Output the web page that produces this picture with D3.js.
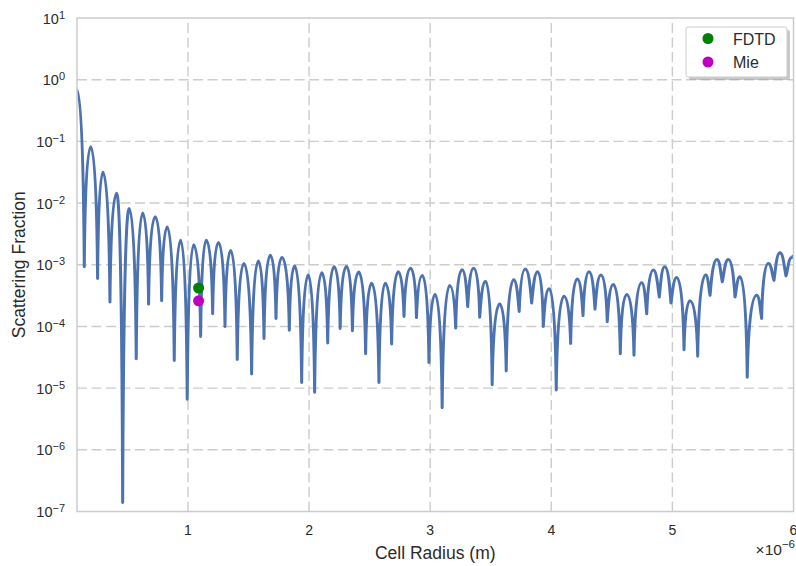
<!DOCTYPE html>
<html lang="en">
<head>
  <meta charset="UTF-8">
  <title>Scattering Fraction vs Cell Radius</title>
  <script src="https://d3js.org/d3.v7.min.js"></script>
  <style>
    body {
      margin: 0;
      background: #fff;
      font-family: "Liberation Sans", Arial, sans-serif;
    }
    svg { display: block; }
  </style>
</head>
<body>
<svg id="chart" width="796" height="566"></svg>

<script>
  // Cell radius in micrometres (the axis carries the x10^-6 offset), read at each lobe top and dip
  const radius = [
    0.084, 0.144, 0.197, 0.254, 0.298, 0.356, 0.411, 0.461, 0.515, 0.573,
    0.626, 0.675, 0.730, 0.783, 0.829, 0.887, 0.940, 0.994, 1.047, 1.105,
    1.151, 1.204, 1.252, 1.306, 1.353, 1.407, 1.462, 1.526, 1.581, 1.628,
    1.680, 1.727, 1.776, 1.837, 1.881, 1.939, 1.993, 2.046, 2.105, 2.154,
    2.207, 2.257, 2.309, 2.358, 2.410, 2.467, 2.517, 2.577, 2.629, 2.682,
    2.737, 2.784, 2.839, 2.887, 2.935, 2.990, 3.041, 3.099, 3.161, 3.211,
    3.263, 3.310, 3.359, 3.409, 3.458, 3.512, 3.574, 3.628, 3.689, 3.735,
    3.785, 3.838, 3.888, 3.934, 3.983, 4.041, 4.105, 4.160, 4.215, 4.262,
    4.311, 4.361, 4.410, 4.462, 4.512, 4.570, 4.623, 4.683, 4.746, 4.788,
    4.842, 4.892, 4.936, 4.988, 5.035, 5.096, 5.145, 5.209, 5.275, 5.311,
    5.368, 5.412, 5.462, 5.517, 5.558, 5.618, 5.696, 5.737, 5.792, 5.839,
    5.888, 5.938, 5.985, 6.000
  ];

  const fraction = [
    0.68, 9.3e-4, 0.082, 6.0e-4, 0.0315, 2.5e-4, 0.0144, 1.4e-7, 8.2e-3, 3.0e-5,
    6.9e-3, 2.3e-4, 6.0e-3, 2.6e-4, 4.1e-3, 2.8e-5, 2.5e-3, 6.6e-6, 2.1e-3, 6.9e-5,
    2.5e-3, 1.6e-4, 2.3e-3, 1.0e-4, 1.7e-3, 2.9e-5, 1.05e-3, 1.7e-5, 1.15e-3, 6.4e-5,
    1.43e-3, 1.35e-4, 1.31e-3, 8.7e-5, 9.5e-4, 1.23e-5, 6.8e-4, 8.6e-6, 7.4e-4, 5.4e-5,
    9.3e-4, 9.3e-5, 9.4e-4, 8.5e-5, 7.6e-4, 3.6e-5, 5.0e-4, 1.23e-5, 5.0e-4, 5.2e-5,
    7.7e-4, 1.45e-4, 8.8e-4, 1.39e-4, 6.7e-4, 2.6e-5, 3.3e-4, 4.8e-6, 4.6e-4, 9.4e-5,
    8.3e-4, 2.1e-4, 8.8e-4, 1.41e-4, 5.4e-4, 1.13e-5, 2.3e-4, 1.9e-5, 5.7e-4, 1.75e-4,
    8.5e-4, 2.4e-4, 7.7e-4, 1.0e-4, 4.1e-4, 9.3e-6, 3.1e-4, 5.3e-5, 5.9e-4, 1.5e-4,
    7.7e-4, 1.9e-4, 6.8e-4, 1.19e-4, 4.8e-4, 3.6e-5, 3.3e-4, 3.4e-5, 5.1e-4, 1.6e-4,
    8.2e-4, 3.0e-4, 9.3e-4, 2.4e-4, 6.2e-4, 4.2e-5, 2.6e-4, 3.3e-5, 6.8e-4, 3.2e-4,
    1.22e-3, 5.3e-4, 1.22e-3, 3.0e-4, 6.4e-4, 1.5e-5, 3.2e-4, 1.35e-4, 1.05e-3, 5.6e-4,
    1.56e-3, 6.6e-4, 1.31e-3, 1.38e-3
  ];

  // single-point results
  const methods = ["FDTD", "Mie"];
  const methodRadius = [1.088, 1.088];
  const methodFraction = [4.2e-4, 2.6e-4];
  const methodColors = ["#008000", "#bf00bf"];

  const xTicks = [1, 2, 3, 4, 5, 6];
  const yExponents = [-7, -6, -5, -4, -3, -2, -1, 0, 1];

  const svg = d3.select("#chart");
  const margin = { top: 18, right: 2.5, bottom: 54.5, left: 77 };
  const W = +svg.attr("width"), H = +svg.attr("height");
  const plotL = margin.left, plotR = W - margin.right;
  const plotT = margin.top, plotB = H - margin.bottom;

  const x = d3.scaleLinear().domain([0.084, 6]).range([plotL, plotR]);
  const y = d3.scaleLog().domain([1e-7, 10]).range([plotB, plotT]);

  const textColor = "#2b2b2b";
  const gridColor = "#cccccc";

  // grid (dashed); horizontal from the left, vertical from the bottom
  svg.append("g")
    .selectAll("line")
    .data(yExponents.slice(1, -1))
    .join("line")
    .attr("x1", plotL).attr("x2", plotR)
    .attr("y1", d => y(Math.pow(10, d))).attr("y2", d => y(Math.pow(10, d)))
    .attr("stroke", gridColor).attr("stroke-width", 1.4)
    .attr("stroke-dasharray", "10,4.5");

  svg.append("g")
    .selectAll("line")
    .data(xTicks.slice(0, -1))
    .join("line")
    .attr("x1", d => x(d)).attr("x2", d => x(d))
    .attr("y1", plotB).attr("y2", plotT)
    .attr("stroke", gridColor).attr("stroke-width", 1.4)
    .attr("stroke-dasharray", "10,4.5");

  // Bezier segments: flat at the top of each lobe, steep into the deep dips
  function curveLobes(context) {
    let pts = [];
    return {
      areaStart() {}, areaEnd() {},
      lineStart() { pts = []; },
      point(px, py) { pts.push([+px, +py]); },
      lineEnd() {
        if (!pts.length) return;
        context.moveTo(pts[0][0], pts[0][1]);
        for (let i = 1; i < pts.length; i++) {
          const [x0, y0] = pts[i - 1], [x1, y1] = pts[i];
          const dx = x1 - x0, dy = Math.abs(y1 - y0);
          const s = Math.min(1, dy / 50);
          const hx = 0.4 - 0.3 * s, hy = 0.6 * dy * s;
          if (y1 > y0) {
            context.bezierCurveTo(x0 + 0.58 * dx, y0, x1 - hx * dx, y1 - hy, x1, y1);
          } else {
            context.bezierCurveTo(x0 + hx * dx, y0 - hy, x1 - 0.58 * dx, y1, x1, y1);
          }
        }
      }
    };
  }

  svg.append("clipPath").attr("id", "plot-clip")
    .append("rect")
    .attr("x", plotL).attr("y", plotT)
    .attr("width", plotR - plotL).attr("height", plotB - plotT);

  const series = radius.map((r, i) => ({ r, f: fraction[i] }));

  const line = d3.line()
    .x(d => x(d.r))
    .y(d => y(d.f))
    .curve(curveLobes);

  svg.append("path")
    .datum(series)
    .attr("clip-path", "url(#plot-clip)")
    .attr("d", line)
    .attr("fill", "none")
    .attr("stroke", "#4c72b0")
    .attr("stroke-width", 3)
    .attr("stroke-linejoin", "round")
    .attr("stroke-linecap", "round");

  // FDTD / Mie points
  svg.append("g")
    .selectAll("circle")
    .data(methods)
    .join("circle")
    .attr("cx", (d, i) => x(methodRadius[i]))
    .attr("cy", (d, i) => y(methodFraction[i]))
    .attr("r", 5.5)
    .attr("fill", (d, i) => methodColors[i]);

  // frame
  svg.append("rect")
    .attr("x", plotL).attr("y", plotT)
    .attr("width", plotR - plotL).attr("height", plotB - plotT)
    .attr("fill", "none")
    .attr("stroke", gridColor)
    .attr("stroke-width", 1.5);

  // x tick labels
  svg.append("g")
    .selectAll("text")
    .data(xTicks)
    .join("text")
    .attr("x", d => x(d))
    .attr("y", plotB + 23)
    .attr("text-anchor", "middle")
    .attr("font-size", 14)
    .attr("fill", textColor)
    .text(d => d);

  // y tick labels, 10^n
  const yLabels = svg.append("g")
    .selectAll("text")
    .data(yExponents)
    .join("text")
    .attr("x", plotL - 12)
    .attr("y", d => y(Math.pow(10, d)) + 5.5)
    .attr("text-anchor", "end")
    .attr("font-size", 14.5)
    .attr("fill", textColor);
  yLabels.append("tspan").text("10");
  yLabels.append("tspan")
    .attr("dy", -5)
    .attr("font-size", 11)
    .text(d => d < 0 ? "\u2212" + Math.abs(d) : d);

  // axis titles
  svg.append("text")
    .attr("x", (plotL + plotR) / 2)
    .attr("y", plotB + 47)
    .attr("text-anchor", "middle")
    .attr("font-size", 17.5)
    .attr("fill", textColor)
    .text("Cell Radius (m)");

  svg.append("text")
    .attr("transform", `translate(25,${(plotT + plotB) / 2}) rotate(-90)`)
    .attr("text-anchor", "middle")
    .attr("font-size", 17.5)
    .attr("fill", textColor)
    .text("Scattering Fraction");

  // offset text for the x axis
  const offset = svg.append("text")
    .attr("x", W - 1)
    .attr("y", plotB + 43.5)
    .attr("text-anchor", "end")
    .attr("font-size", 15.5)
    .attr("fill", textColor);
  offset.append("tspan").text("\u00d710");
  offset.append("tspan").attr("dy", -7).attr("font-size", 11.5).text("\u22126");

  // legend with shadow
  const legend = svg.append("g").attr("transform", "translate(686,27)");
  legend.append("rect")
    .attr("x", 3).attr("y", 3)
    .attr("width", 101).attr("height", 50)
    .attr("rx", 2)
    .attr("fill", "#9a9a9a").attr("opacity", 0.55);
  legend.append("rect")
    .attr("width", 101).attr("height", 50)
    .attr("rx", 2)
    .attr("fill", "#fff")
    .attr("stroke", gridColor).attr("stroke-width", 1);

  const items = legend.selectAll("g.item")
    .data(methods)
    .join("g")
    .attr("class", "item")
    .attr("transform", (d, i) => `translate(0,${11.5 + i * 23.5})`);
  items.append("circle")
    .attr("cx", 22).attr("cy", 0).attr("r", 5.5)
    .attr("fill", (d, i) => methodColors[i]);
  items.append("text")
    .attr("x", 47).attr("y", 6)
    .attr("font-size", 16)
    .attr("fill", textColor)
    .text(d => d);
</script>
</body>
</html>
